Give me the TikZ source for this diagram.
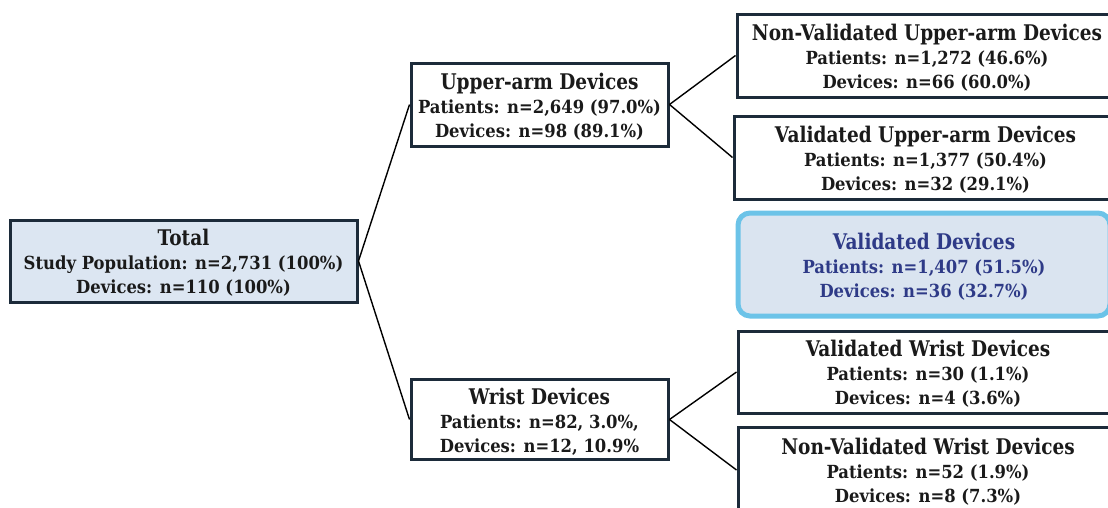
\documentclass[tikz,border=0pt]{standalone}
\usepackage{fontspec}
\usepackage{graphicx}
\setmainfont{DejaVu Serif}
\definecolor{navy}{HTML}{1C2B3A}
\definecolor{totfill}{HTML}{DCE6F2}
\definecolor{valfill}{HTML}{DAE4F0}
\definecolor{valedge}{HTML}{6CC3E8}
\definecolor{valtext}{HTML}{2E3A87}
\definecolor{txt}{HTML}{1A1A1A}
\tikzset{
  box/.style={draw=navy, line width=3pt, fill=white, align=center, inner sep=0pt, text=txt,
    font=\bfseries\fontsize{16.4}{22}\selectfont},
  conn/.style={draw=black, line width=1.4pt},
}
\newcommand{\ttl}[1]{\scalebox{1}[1.06]{\fontsize{18.5}{22}\selectfont #1}}
\newcommand{\bx}[3]{\scalebox{1}[1.1]{\begin{tabular}{@{}c@{}}\rule{0pt}{22.5pt}\ttl{#1}\\#2\\#3\end{tabular}}}
\begin{document}
\begin{tikzpicture}[x=1pt,y=-1pt]
\useasboundingbox (0,0) rectangle (1108,507);
\clip (0,0) rectangle (1108,507);
\node[box, fill=totfill, minimum width=347pt, minimum height=82pt] (total) at (183.5,261)
  {\bx{Total}{Study Population: n=2,731 (100\%)}{Devices: n=110 (100\%)}};
\node[box, minimum width=257pt, minimum height=83pt] (upper) at (539.5,104.5)
  {\bx{Upper-arm Devices}{Patients: n=2,649 (97.0\%)}{Devices: n=98 (89.1\%)}};
\node[box, minimum width=257pt, minimum height=79pt] (wrist) at (539.5,419.5)
  {\bx{Wrist Devices}{Patients: n=82, 3.0\%,}{Devices: n=12, 10.9\%}};
\node[box, minimum width=380pt, minimum height=83pt] (nvu) at (927,55.5)
  {\bx{Non-Validated Upper-arm Devices}{Patients: n=1,272 (46.6\%)}{Devices: n=66 (60.0\%)}};
\node[box, minimum width=383pt, minimum height=83pt] (vu) at (925.5,157.5)
  {\bx{Validated Upper-arm Devices}{Patients: n=1,377 (50.4\%)}{Devices: n=32 (29.1\%)}};
\node[box, draw=valedge, line width=5pt, fill=valfill, text=valtext, rounded corners=12pt,
  minimum width=372pt, minimum height=103pt] (val) at (924,264.5)
  {\bx{Validated Devices}{Patients: n=1,407 (51.5\%)}{Devices: n=36 (32.7\%)}};
\node[box, minimum width=380pt, minimum height=82pt] (vw) at (928,372)
  {\bx{Validated Wrist Devices}{Patients: n=30 (1.1\%)}{Devices: n=4 (3.6\%)}};
\node[box, minimum width=380pt, minimum height=86pt] (nvw) at (928,470)
  {\bx{Non-Validated Wrist Devices}{Patients: n=52 (1.9\%)}{Devices: n=8 (7.3\%)}};
\draw[conn] (total.east) -- (upper.west);
\draw[conn] (total.east) -- (wrist.west);
\draw[conn] (upper.east) -- (nvu.west);
\draw[conn] (upper.east) -- (vu.west);
\draw[conn] (wrist.east) -- (vw.west);
\draw[conn] (wrist.east) -- (nvw.west);
\end{tikzpicture}
\end{document}
